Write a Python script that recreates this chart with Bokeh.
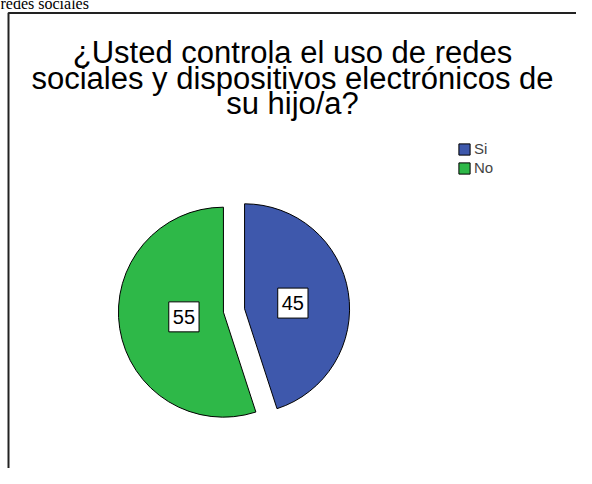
import math
from bokeh.plotting import figure
from bokeh.models import Range1d, ColumnDataSource, Legend, LegendItem
from bokeh.core.properties import value
from bokeh.embed import file_html
from bokeh.resources import INLINE

# ---- data ----
categories = ["Si", "No"]
values = [45, 55]
colors = ["#3E58AC", "#2EB848"]
title_lines = ["¿Usted controla el uso de redes",
               "sociales y dispositivos electrónicos de",
               "su hijo/a?"]
caption = "redes sociales"

# ---- layout (picture pixel coordinates) ----
W, H = 576, 468
OX, OY = 0, 0
FONT = "Liberation Sans"


def X(xp):
    return xp - OX


def Y(yp):
    return H - (yp - OY)


p = figure(width=W, height=H, x_range=Range1d(0, W), y_range=Range1d(0, H),
           output_backend="svg", toolbar_location=None, min_border=0)
p.axis.visible = False
p.grid.visible = False
p.outline_line_color = None
p.background_fill_color = "white"
p.border_fill_color = "white"

# caption fragment above the chart box (document text, cut at the top)
p.text(x=[X(0)], y=[Y(3)], text=[caption], text_font=value("Liberation Serif"),
       text_font_size="16px", text_color="black", text_baseline="alphabetic",
       text_align="left")

# chart box border
p.line(x=[X(8), X(8), X(600)], y=[Y(500), Y(12.5), Y(12.5)],
       line_color="#222222", line_width=2)

# title
title_size = 31
line_gap = 25.5
first_base = 52
p.text(x=[X(292)] * len(title_lines),
       y=[Y(first_base + i * line_gap) for i in range(len(title_lines))],
       text=title_lines, text_font=value(FONT), text_font_size=f"{title_size}px",
       text_align="center", text_baseline="alphabetic", text_color="black")

# pie
cx, cy = X(233.5), Y(310)
R = 105
explode = 10.7
total = sum(values)
cum = 0.0
renderers = []
lab_x, lab_y = [], []
for cat, v, col in zip(categories, values, colors):
    end = math.pi / 2 - 2 * math.pi * cum / total
    theta = 2 * math.pi * v / total
    start = end - theta
    mid = (start + end) / 2
    sx = cx + explode * math.cos(mid)
    sy = cy + explode * math.sin(mid)
    r = p.wedge(x=[sx], y=[sy], radius=R, start_angle=start, end_angle=end,
                fill_color=col, line_color="black", line_width=1)
    renderers.append((cat, r))
    d = 4 * R * math.sin(theta / 2) / (3 * theta)  # sector centroid
    lab_x.append(sx + d * math.cos(mid))
    lab_y.append(sy + d * math.sin(mid) * 0.75)
    cum += v

src = ColumnDataSource(dict(x=lab_x, y=lab_y, t=[str(v) for v in values]))
p.text(x="x", y="y", text="t", source=src, text_align="center",
       text_baseline="middle", text_font=value(FONT),
       text_font_size="20px", text_color="black",
       background_fill_color="white", border_line_color="black",
       border_line_width=1, padding=dict(left=4, right=4, top=8, bottom=8))

legend = Legend(items=[LegendItem(label=c, renderers=[r]) for c, r in renderers],
                location=(X(457), Y(176)), orientation="vertical",
                glyph_width=14, glyph_height=14, label_height=14,
                spacing=2, padding=0, margin=0, label_standoff=3,
                label_text_font=FONT, label_text_font_size="15px",
                border_line_color=None, background_fill_alpha=0)
p.add_layout(legend, "center")

open("out.html", "w").write(file_html(p, INLINE))
